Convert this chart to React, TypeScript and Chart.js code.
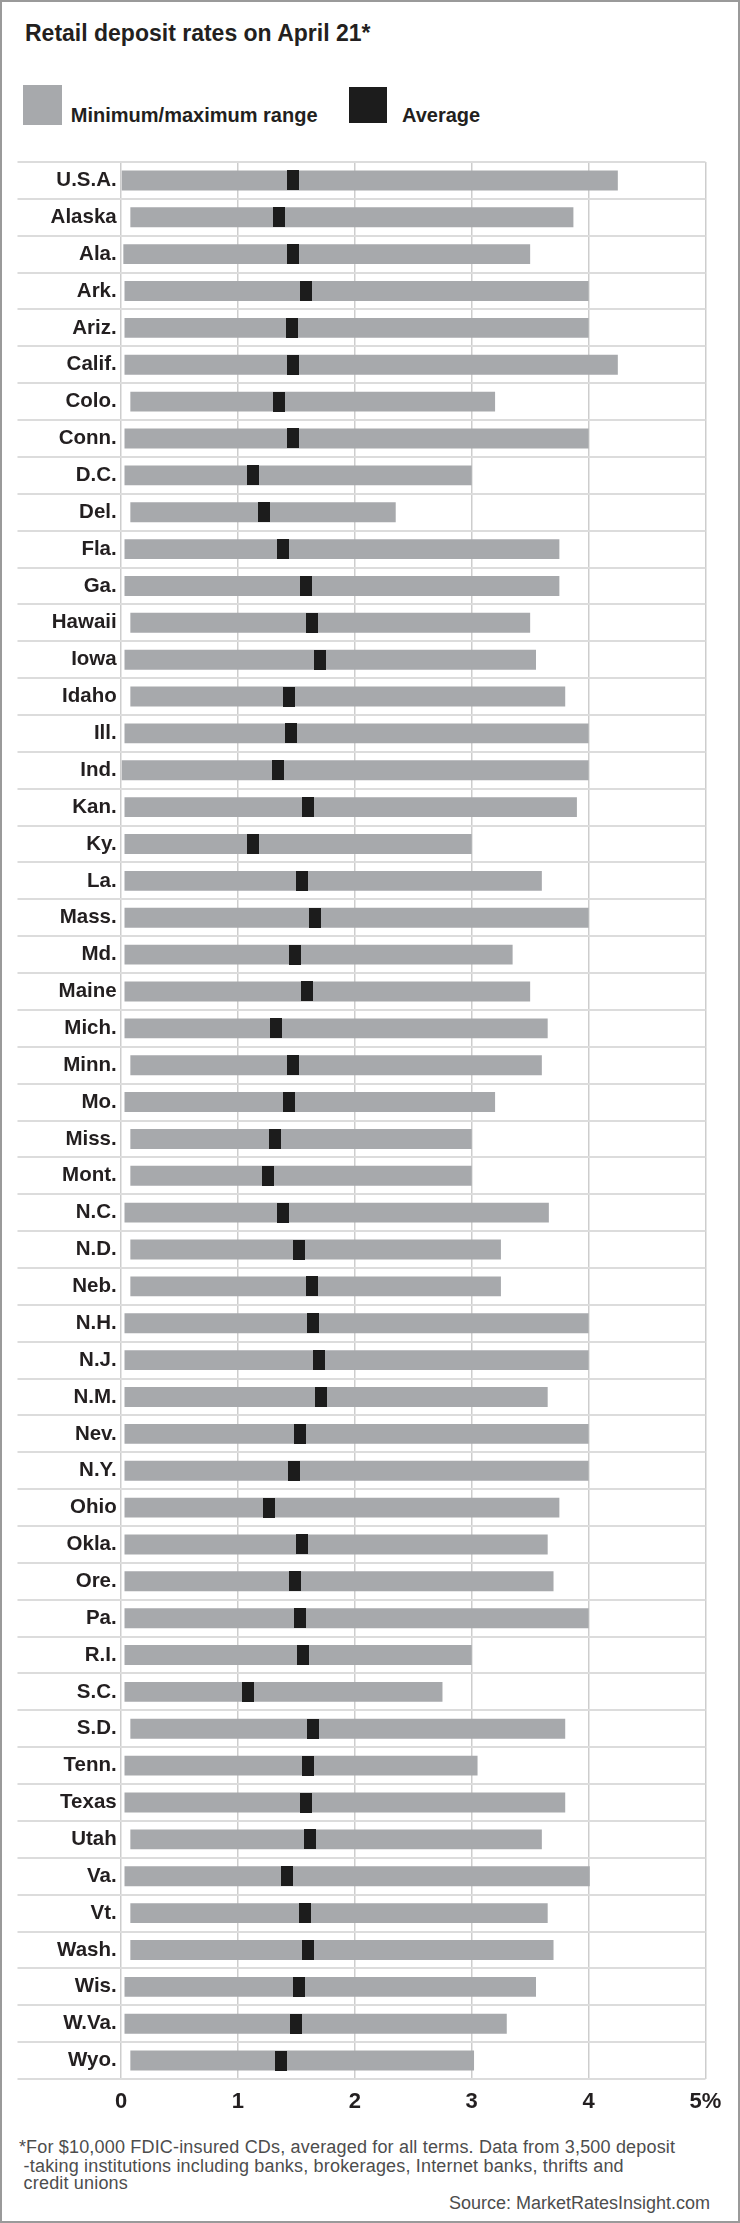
import React, { useEffect, useRef } from 'react';
import { Chart, registerables } from 'chart.js';

Chart.register(...registerables);

const states = [
  'U.S.A.', 'Alaska', 'Ala.', 'Ark.', 'Ariz.', 'Calif.', 'Colo.', 'Conn.', 'D.C.', 'Del.',
  'Fla.', 'Ga.', 'Hawaii', 'Iowa', 'Idaho', 'Ill.', 'Ind.', 'Kan.', 'Ky.', 'La.',
  'Mass.', 'Md.', 'Maine', 'Mich.', 'Minn.', 'Mo.', 'Miss.', 'Mont.', 'N.C.', 'N.D.',
  'Neb.', 'N.H.', 'N.J.', 'N.M.', 'Nev.', 'N.Y.', 'Ohio', 'Okla.', 'Ore.', 'Pa.',
  'R.I.', 'S.C.', 'S.D.', 'Tenn.', 'Texas', 'Utah', 'Va.', 'Vt.', 'Wash.', 'Wis.',
  'W.Va.', 'Wyo.',
];

const minRate = [
  0, 0.08, 0.02, 0.03, 0.03, 0.03, 0.08, 0.03, 0.03, 0.08,
  0.03, 0.03, 0.08, 0.03, 0.08, 0.03, 0, 0.03, 0.03, 0.03,
  0.03, 0.03, 0.03, 0.03, 0.08, 0.03, 0.08, 0.08, 0.03, 0.08,
  0.08, 0.03, 0.03, 0.03, 0.03, 0.03, 0.03, 0.03, 0.03, 0.03,
  0.03, 0.03, 0.08, 0.03, 0.03, 0.08, 0.03, 0.08, 0.08, 0.03,
  0.03, 0.08,
];

const maxRate = [
  4.25, 3.87, 3.5, 4.0, 4.0, 4.25, 3.2, 4.0, 3.0, 2.35,
  3.75, 3.75, 3.5, 3.55, 3.8, 4.0, 4.0, 3.9, 3.0, 3.6,
  4.0, 3.35, 3.5, 3.65, 3.6, 3.2, 3.0, 3.0, 3.66, 3.25,
  3.25, 4.0, 4.0, 3.65, 4.0, 4.0, 3.75, 3.65, 3.7, 4.0,
  3.0, 2.75, 3.8, 3.05, 3.8, 3.6, 4.01, 3.65, 3.7, 3.55,
  3.3, 3.02,
];

const avgRate = [
  1.47, 1.35, 1.47, 1.58, 1.46, 1.475, 1.35, 1.475, 1.13, 1.22,
  1.39, 1.58, 1.63, 1.7, 1.44, 1.45, 1.34, 1.6, 1.13, 1.55,
  1.66, 1.49, 1.59, 1.33, 1.475, 1.44, 1.32, 1.26, 1.385, 1.52,
  1.63, 1.64, 1.69, 1.71, 1.53, 1.48, 1.27, 1.55, 1.49, 1.535,
  1.56, 1.09, 1.645, 1.6, 1.58, 1.62, 1.42, 1.57, 1.6, 1.52,
  1.5, 1.37,
];

const xTickLabels = ['0', '1', '2', '3', '4', '5%'];

const titleText = 'Retail deposit rates on April 21*';
const legendRange = 'Minimum/maximum range';
const legendAvg = 'Average';
const noteLines = [
  '*For $10,000 FDIC-insured CDs, averaged for all terms. Data from 3,500 deposit',
  '-taking institutions including banks, brokerages, Internet banks, thrifts and',
  'credit unions',
];
const sourceText = 'Source: MarketRatesInsight.com';

const INK = '#231f20';
const BAR_GRAY = '#a7a9ac';
const MARK = '#1c1c1c';
const SANS = '"Liberation Sans", Arial, sans-serif';

export default function App() {
  const ref = useRef<HTMLCanvasElement>(null);

  useEffect(() => {
    const marker = document.createElement('canvas');
    marker.width = 12;
    marker.height = 20;
    const mctx = marker.getContext('2d');
    if (mctx) {
      mctx.fillStyle = MARK;
      mctx.fillRect(0, 0, 12, 20);
    }
    const chart = new Chart(ref.current as HTMLCanvasElement, {
      type: 'bar',
      data: {
        labels: states,
        datasets: [
          {
            type: 'bar',
            label: legendRange,
            data: states.map((_, i) => [minRate[i], maxRate[i]]) as any,
            backgroundColor: BAR_GRAY,
            borderWidth: 0,
            borderSkipped: false,
            categoryPercentage: 1,
            barPercentage: 0.54,
            order: 2,
          },
          {
            type: 'line',
            label: legendAvg,
            data: avgRate,
            showLine: false,
            pointStyle: marker as any,
            pointRadius: 6,
            pointHoverRadius: 6,
            order: 1,
          } as any,
        ],
      },
      options: {
        indexAxis: 'y',
        responsive: false,
        animation: false,
        events: [],
        layout: { padding: { top: 12, right: 34.5, left: 0, bottom: 0 } },
        plugins: {
          legend: { display: false },
          tooltip: { enabled: false },
          title: { display: false },
        },
        scales: {
          x: {
            type: 'linear',
            position: 'bottom',
            min: 0,
            max: 5,
            afterFit: (s: any) => {
              s.height = 51;
            },
            ticks: {
              stepSize: 1,
              padding: 10,
              color: INK,
              font: { family: SANS, weight: 'bold', size: 22 },
              callback: (_v: any, i: number) => xTickLabels[i],
            },
            grid: { color: '#cdcdcd', lineWidth: 1.5, drawTicks: false },
            border: { display: false },
          },
          y: {
            type: 'category',
            position: 'left',
            afterFit: (s: any) => {
              s.width = 121;
            },
            ticks: {
              autoSkip: false,
              padding: -99.2,
              color: INK,
              font: { family: SANS, weight: 'bold', size: 20.5 },
            },
            grid: { offset: true, color: '#dcdcdc', lineWidth: 2, drawTicks: true, tickLength: 103.5 },
            border: { display: false },
          },
        },
      } as any,
    });
    return () => chart.destroy();
  }, []);

  const abs = (o: React.CSSProperties): React.CSSProperties => ({
    position: 'absolute',
    whiteSpace: 'nowrap',
    margin: 0,
    ...o,
  });

  return (
    <div
      style={{
        position: 'absolute',
        left: 0,
        top: 0,
        width: 740,
        height: 2223,
        background: '#ffffff',
        overflow: 'hidden',
      }}
    >
      <div
        style={abs({
          left: 25,
          top: 22.2,
          font: `bold 23px/23px ${SANS}`,
          color: INK,
        })}
      >
        {titleText}
      </div>

      <div style={abs({ left: 22.6, top: 85, width: 39.7, height: 40, background: BAR_GRAY })} />
      <div
        style={abs({
          left: 70.8,
          top: 104.8,
          font: `bold 20px/20px ${SANS}`,
          color: INK,
        })}
      >
        {legendRange}
      </div>
      <div style={abs({ left: 349, top: 87, width: 38, height: 36, background: MARK })} />
      <div
        style={abs({
          left: 402,
          top: 104.8,
          font: `bold 20px/20px ${SANS}`,
          color: INK,
        })}
      >
        {legendAvg}
      </div>

      <canvas
        ref={ref}
        width={740}
        height={1980}
        style={{ position: 'absolute', left: 0, top: 150, width: 740, height: 1980 }}
      />

      <div style={abs({ left: 18.9, top: 2138, font: `18px/18px ${SANS}`, letterSpacing: '0.18px', color: '#4d4d4d' })}>
        {noteLines[0]}
      </div>
      <div style={abs({ left: 23.6, top: 2156.5, font: `18px/18px ${SANS}`, letterSpacing: '0.18px', color: '#4d4d4d' })}>
        {noteLines[1]}
      </div>
      <div style={abs({ left: 23.6, top: 2174, font: `18px/18px ${SANS}`, letterSpacing: '0.18px', color: '#4d4d4d' })}>
        {noteLines[2]}
      </div>
      <div style={abs({ right: 30, top: 2194, font: `18px/18px ${SANS}`, color: '#4d4d4d' })}>
        {sourceText}
      </div>

      <div
        style={{
          position: 'absolute',
          left: 0,
          top: 0,
          width: 740,
          height: 2223,
          border: '2px solid #9a9a9a',
          boxSizing: 'border-box',
          pointerEvents: 'none',
        }}
      />
    </div>
  );
}
